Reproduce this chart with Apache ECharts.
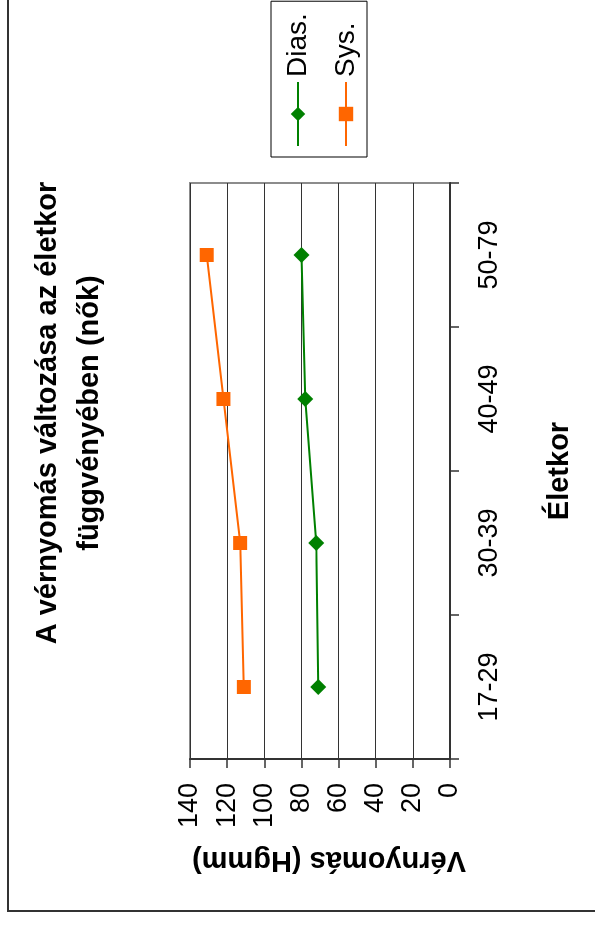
<!DOCTYPE html>
<html>
<head>
<meta charset="utf-8">
<script src="https://cdn.jsdelivr.net/npm/echarts@6/dist/echarts.min.js"></script>
<style>
  html, body { margin: 0; padding: 0; background: #ffffff; overflow: hidden; }
  /* The chart is laid out landscape and turned a quarter turn counter-clockwise onto the portrait page. */
  #chart {
    position: absolute; left: 0; top: 0;
    width: 926px; height: 595px;
    transform-origin: 0 0;
    transform: translate(0, 926px) rotate(-90deg);
  }
</style>
</head>
<body>
<div id="chart"></div>
<script>
// Age groups and mean blood pressure (Hgmm) of women
const ageGroups = ['17-29', '30-39', '40-49', '50-79'];
const diastolic = [71, 72, 78, 80];
const systolic = [111, 113, 122, 131];
const valueMin = 0, valueMax = 140, valueStep = 20;

const FONT = '"Liberation Sans", Arial, sans-serif';

const chart = echarts.init(document.getElementById('chart'), null, { renderer: 'canvas', width: 926, height: 595 });

chart.setOption({
  backgroundColor: '#ffffff',
  animation: false,
  title: {
    text: 'A vérnyomás változása az életkor\nfüggvényében (nők)',
    left: 513,
    top: 27,
    padding: 0,
    textAlign: 'center',
    textStyle: {
      fontFamily: FONT, fontSize: 29, fontWeight: 'bold', color: '#000000',
      lineHeight: 42, align: 'center'
    }
  },
  graphic: [{
    type: 'rect',
    z: -1,
    shape: { x: 15, y: 8, width: 1000, height: 700 },
    style: { fill: 'none', stroke: '#333333', lineWidth: 2 }
  }],
  legend: {
    orient: 'vertical',
    left: 769,
    top: 271,
    padding: [13, 12, 7, 10],
    itemGap: 20,
    itemWidth: 64,
    itemHeight: 18,
    borderColor: '#000000',
    borderWidth: 1,
    backgroundColor: '#ffffff',
    textStyle: { fontFamily: FONT, fontSize: 28, color: '#000000' },
    data: ['Dias.', 'Sys.']
  },
  grid: {
    left: 167, right: 183, top: 190, bottom: 145,
    show: true,
    borderColor: '#8c8c8c',
    borderWidth: 2,
    backgroundColor: 'transparent'
  },
  xAxis: {
    type: 'category',
    data: ageGroups,
    boundaryGap: true,
    name: 'Életkor',
    nameLocation: 'middle',
    nameGap: 95,
    nameTextStyle: { fontFamily: FONT, fontSize: 29, fontWeight: 'bold', color: '#000000' },
    axisLine: { show: true, lineStyle: { color: '#333333', width: 2 } },
    axisTick: { show: true, inside: false, length: 9, alignWithLabel: false, lineStyle: { color: '#333333', width: 1.5 } },
    axisLabel: { fontFamily: FONT, fontSize: 27, color: '#000000', margin: 26 },
    splitLine: { show: false }
  },
  yAxis: {
    type: 'value',
    min: valueMin,
    max: valueMax,
    interval: valueStep,
    name: 'Vérnyomás (Hgmm)',
    nameLocation: 'middle',
    nameRotate: 90,
    nameGap: 87,
    nameTextStyle: { fontFamily: FONT, fontSize: 29, fontWeight: 'bold', color: '#000000', padding: [0, 18, 0, 0] },
    axisLine: { show: true, lineStyle: { color: '#333333', width: 2 } },
    axisTick: { show: true, inside: false, length: 9, lineStyle: { color: '#333333', width: 1.5 } },
    axisLabel: { fontFamily: FONT, fontSize: 27, color: '#000000', margin: 24 },
    splitLine: { show: true, lineStyle: { color: '#333333', width: 1 } }
  },
  series: [
    {
      name: 'Dias.',
      type: 'line',
      data: diastolic,
      symbol: 'diamond',
      symbolSize: 16,
      color: '#008000',
      lineStyle: { color: '#008000', width: 2 },
      itemStyle: { color: '#008000' },
      z: 3
    },
    {
      name: 'Sys.',
      type: 'line',
      data: systolic,
      symbol: 'rect',
      symbolSize: 14,
      color: '#ff6600',
      lineStyle: { color: '#ff6600', width: 2 },
      itemStyle: { color: '#ff6600' },
      z: 3
    }
  ]
});
</script>
</body>
</html>
